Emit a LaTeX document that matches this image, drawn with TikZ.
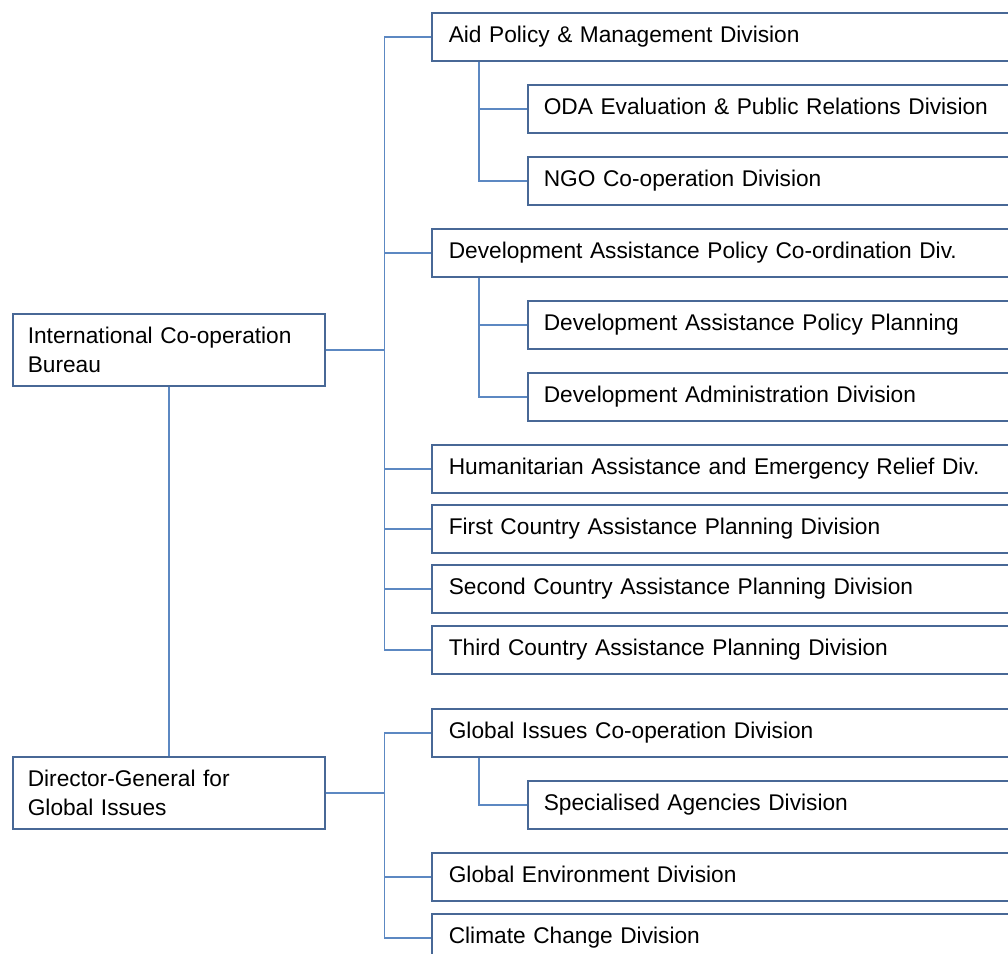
\documentclass[tikz,border=0pt]{standalone}
\usepackage{fontspec}
\setmainfont{Liberation Sans}
\usetikzlibrary{calc}
\definecolor{boxc}{RGB}{72,104,150}
\definecolor{linec}{RGB}{92,136,194}
\begin{document}
\begin{tikzpicture}[x=1pt,y=-1pt,
  every node/.style={font=\fontsize{22.7}{29}\selectfont},
  unit/.style={draw=boxc, line width=1.6pt, fill=white, rectangle, anchor=north west,
    align=left, inner xsep=17pt, inner ysep=0pt, minimum height=48pt,
    text height=16.3pt, text depth=4.3pt},
  lone/.style={unit, text width=566pt},
  ltwo/.style={unit, text width=466pt, inner xsep=16pt},
  head/.style={draw=boxc, line width=1.6pt, fill=white, rectangle, anchor=north west,
    align=left, inner xsep=15pt, inner ysep=0pt, minimum height=72pt, text width=282pt},
  conn/.style={draw=linec, line width=1.5pt}
]
\clip (0,0) rectangle (1008,953);
\fill[white] (0,0) rectangle (1008,953);

% head boxes
\node[head] (icb) at (12,313) {International Co-operation\\Bureau};
\node[head] (dg) at (12,756) {Director-General for\\Global Issues};

% level-1 and level-2 units
\node[lone] (aid) at (431,12) {Aid Policy \& Management Division};
\node[ltwo] (oda) at (527,84) {ODA Evaluation \& Public Relations Division};
\node[ltwo] (ngo) at (527,156) {NGO Co-operation Division};
\node[lone] (dapc) at (431,228) {Development Assistance Policy Co-ordination Div.};
\node[ltwo] (dapp) at (527,300) {Development Assistance Policy Planning};
\node[ltwo] (dad) at (527,372) {Development Administration Division};
\node[lone] (hum) at (431,444) {Humanitarian Assistance and Emergency Relief Div.};
\node[lone] (first) at (431,504) {First Country Assistance Planning Division};
\node[lone] (second) at (431,564) {Second Country Assistance Planning Division};
\node[lone] (third) at (431,625) {Third Country Assistance Planning Division};
\node[lone] (gic) at (431,708) {Global Issues Co-operation Division};
\node[ltwo] (spec) at (527,780) {Specialised Agencies Division};
\node[lone] (genv) at (431,852) {Global Environment Division};
\node[lone] (clim) at (431,913) {Climate Change Division};

% bus points
\coordinate (b1) at ([xshift=59pt]icb.east);
\coordinate (b2) at ([xshift=59pt]dg.east);

% connectors
\draw[conn] (icb.south) -- (dg.north);
\draw[conn] (icb.east) -- (b1);
\foreach \n in {aid,dapc,hum,first,second,third}
  \draw[conn] (\n.west) -| (b1);
\draw[conn] (dg.east) -- (b2);
\foreach \n in {gic,genv,clim}
  \draw[conn] (\n.west) -| (b2);

\draw[conn] (oda.west) -| ([xshift=48pt]aid.south west);
\draw[conn] (ngo.west) -| ([xshift=48pt]aid.south west);
\draw[conn] (dapp.west) -| ([xshift=48pt]dapc.south west);
\draw[conn] (dad.west) -| ([xshift=48pt]dapc.south west);
\draw[conn] (spec.west) -| ([xshift=48pt]gic.south west);
\end{tikzpicture}
\end{document}
